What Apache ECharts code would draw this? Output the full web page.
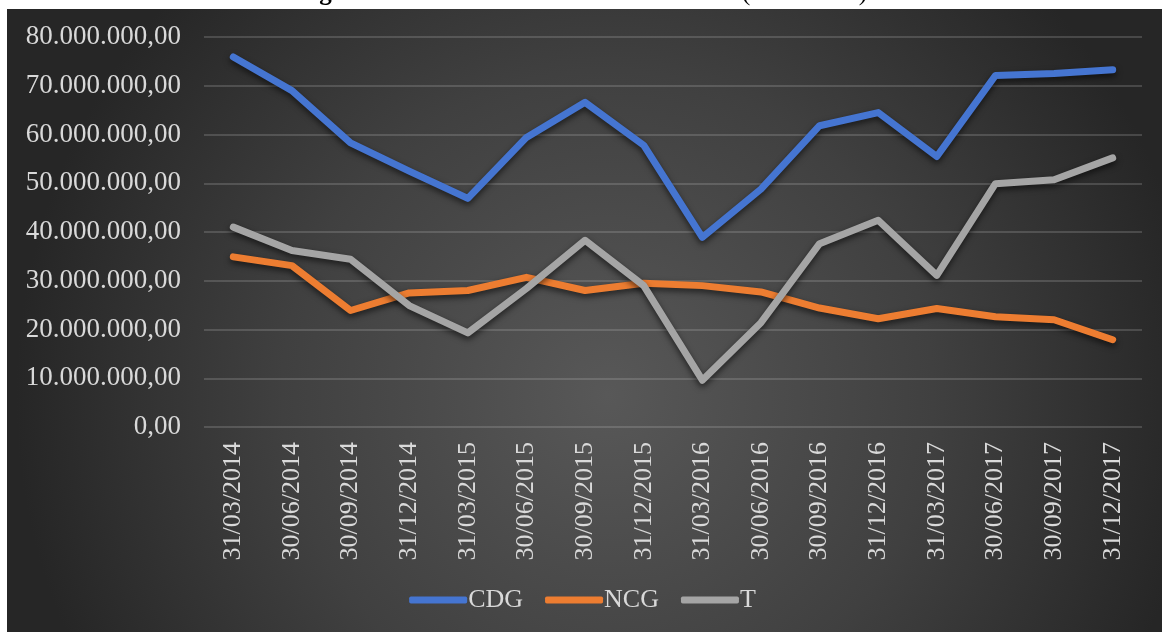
<!DOCTYPE html>
<html>
<head>
<meta charset="utf-8">
<script src="https://cdn.jsdelivr.net/npm/echarts@6/dist/echarts.min.js"></script>
<style>
  html, body { margin: 0; padding: 0; background: #ffffff; }
  #chart { width: 1165px; height: 632px; }
</style>
</head>
<body>
<div id="chart"></div>
<script>
// Quarter-end dates
const dates = [
  '31/03/2014', '30/06/2014', '30/09/2014', '31/12/2014',
  '31/03/2015', '30/06/2015', '30/09/2015', '31/12/2015',
  '31/03/2016', '30/06/2016', '30/09/2016', '31/12/2016',
  '31/03/2017', '30/06/2017', '30/09/2017', '31/12/2017'
];

// Capital de giro (CDG)
const cdg = [
  75900000, 69000000, 58300000, 52500000,
  46900000, 59400000, 66600000, 57800000,
  38900000, 48800000, 61800000, 64500000,
  55500000, 72100000, 72500000, 73300000
];

// Necessidade de capital de giro (NCG)
const ncg = [
  34900000, 33100000, 23900000, 27500000,
  28000000, 30700000, 28000000, 29500000,
  29000000, 27700000, 24400000, 22200000,
  24300000, 22600000, 22000000, 17900000
];

// Saldo de tesouraria (T)
const tes = [
  41000000, 36200000, 34400000, 24900000,
  19300000, 28400000, 38300000, 29000000,
  9600000, 21400000, 37600000, 42400000,
  31100000, 49900000, 50700000, 55200000
];

const serif = "'Liberation Serif', 'Times New Roman', serif";
const textColor = '#d9d9d9';

function fmtBR(v) {
  const parts = Math.round(v).toString().replace(/\B(?=(\d{3})+(?!\d))/g, '.');
  return parts + ',00';
}

const chart = echarts.init(document.getElementById('chart'), null, { renderer: 'canvas' });

const lineStyle = (color) => ({
  width: 7,
  color: color,
  cap: 'round',
  join: 'round',
  shadowColor: 'rgba(0,0,0,0.6)',
  shadowBlur: 6,
  shadowOffsetY: 3
});

chart.setOption({
  backgroundColor: '#ffffff',
  animation: false,
  graphic: [
    {
      type: 'rect',
      z: -10,
      shape: { x: 7, y: 9, width: 1155, height: 623 },
      style: {
        fill: new echarts.graphic.RadialGradient(0.52, 0.62, 0.95, [
          { offset: 0, color: '#585858' },
          { offset: 0.55, color: '#404040' },
          { offset: 1, color: '#262626' }
        ])
      },
      silent: true
    },
    {
      type: 'text',
      x: 582,
      y: 6,
      style: {
        text: '{b|Figura 5} — Análise Dinâmica da Petrobras (2014-2017)',
        rich: { b: { fontWeight: 'bold', fontFamily: serif, fontSize: 25, fill: '#000' } },
        fontFamily: serif,
        fontSize: 25,
        fill: '#000',
        textAlign: 'center',
        textVerticalAlign: 'bottom'
      },
      silent: true
    }
  ],
  grid: { left: 204, right: 23, top: 37, bottom: 205 },
  legend: {
    bottom: 14,
    left: 'center',
    icon: 'roundRect',
    itemWidth: 58,
    itemHeight: 7,
    itemGap: 22,
    textStyle: { color: textColor, fontFamily: serif, fontSize: 26, padding: [0, 0, 0, -4] },
    data: ['CDG', 'NCG', 'T']
  },
  xAxis: {
    type: 'category',
    data: dates,
    boundaryGap: true,
    axisLine: { show: false },
    axisTick: { show: false },
    axisLabel: {
      rotate: 90,
      margin: 15,
      color: textColor,
      fontFamily: serif,
      fontSize: 26
    }
  },
  yAxis: {
    type: 'value',
    min: 0,
    max: 80000000,
    interval: 10000000,
    axisLine: { show: false },
    axisTick: { show: false },
    splitLine: { lineStyle: { color: 'rgba(200,200,200,0.28)', width: 1.5 } },
    axisLabel: {
      margin: 23,
      color: textColor,
      fontFamily: serif,
      fontSize: 27,
      formatter: fmtBR
    }
  },
  series: [
    { name: 'CDG', type: 'line', data: cdg, symbol: 'none', color: '#4575D1', lineStyle: lineStyle('#4575D1') },
    { name: 'NCG', type: 'line', data: ncg, symbol: 'none', color: '#ED7D31', lineStyle: lineStyle('#ED7D31') },
    { name: 'T', type: 'line', data: tes, symbol: 'none', color: '#A5A5A5', lineStyle: lineStyle('#A5A5A5') }
  ]
});
</script>
</body>
</html>
